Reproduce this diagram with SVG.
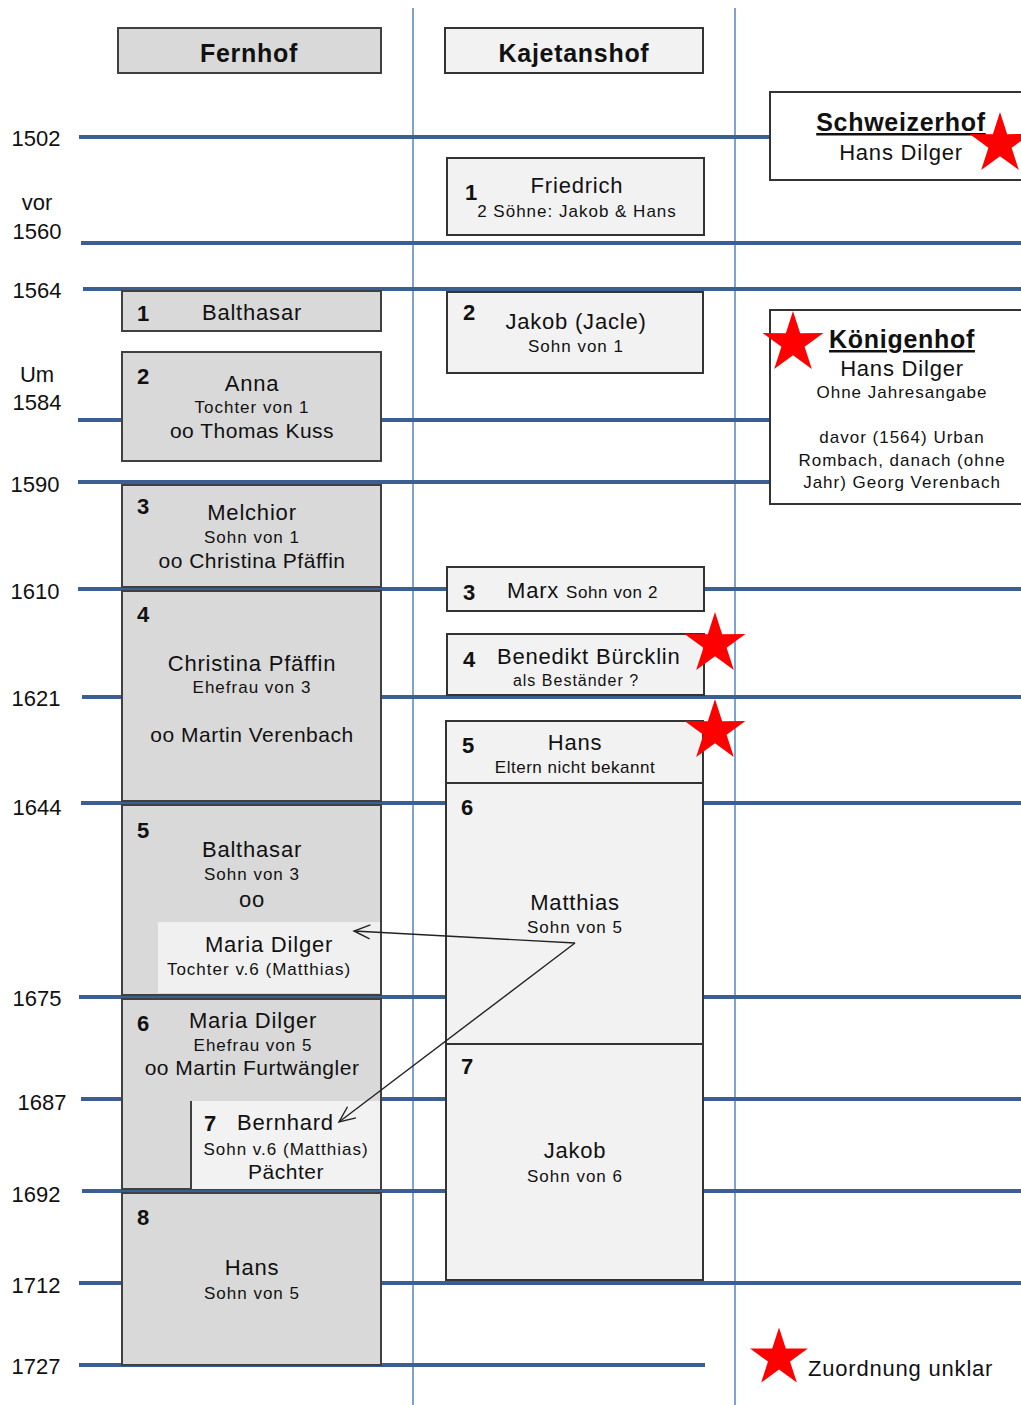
<svg xmlns="http://www.w3.org/2000/svg" width="1021" height="1405" viewBox="0 0 1021 1405">
<style>
text{font-family:"Liberation Sans",Arial,sans-serif;fill:#111}
.yr{font-size:22px;text-anchor:middle}
.hl{stroke:#3b5e93;stroke-width:4;fill:none}
.vl{stroke:#7ea3d2;stroke-width:2;fill:none}
.fb{fill:#d9d9d9;stroke:#404040;stroke-width:2}
.kb{fill:#f2f2f2;stroke:#333;stroke-width:2}
.wb{fill:#fff;stroke:#333;stroke-width:2}
.n{font-size:22px;font-weight:bold}
.m{font-size:22px;text-anchor:middle;letter-spacing:0.8px}
.l{font-size:22px;letter-spacing:0.8px}
.o{font-size:21px;text-anchor:middle;letter-spacing:0.5px}
.s{font-size:17px;text-anchor:middle;letter-spacing:1px}
.hd{font-size:25px;font-weight:bold;text-anchor:middle;letter-spacing:0.7px}
.star{fill:#f00}
.con{stroke:#222;stroke-width:1.4;fill:none}
</style>
<defs>
<path id="star" d="M0,-32 L7.17,-9.87 L30.43,-9.89 L11.6,3.77 L18.81,25.89 L0,12.2 L-18.81,25.89 L-11.6,3.77 L-30.43,-9.89 L-7.17,-9.87 Z"/>
<marker id="arr" markerWidth="20" markerHeight="20" refX="18" refY="10" orient="auto" markerUnits="userSpaceOnUse">
<path d="M2,3 L18,10 L2,17" fill="none" stroke="#222" stroke-width="1.4"/>
</marker>
</defs>
<rect width="1021" height="1405" fill="#fff"/>

<g id="grid">
<line class="vl" x1="413" y1="8" x2="413" y2="1405"/>
<line class="vl" x1="735" y1="8" x2="735" y2="1405"/>
<line class="hl" x1="79" y1="137" x2="771" y2="137"/>
<line class="hl" x1="81" y1="243" x2="1021" y2="243"/>
<line class="hl" x1="83" y1="289" x2="1021" y2="289"/>
<line class="hl" x1="78" y1="420" x2="771" y2="420"/>
<line class="hl" x1="78" y1="482" x2="771" y2="482"/>
<line class="hl" x1="78" y1="589" x2="1021" y2="589"/>
<line class="hl" x1="82" y1="697" x2="1021" y2="697"/>
<line class="hl" x1="81" y1="803" x2="1021" y2="803"/>
<line class="hl" x1="79" y1="997" x2="1021" y2="997"/>
<line class="hl" x1="81" y1="1099" x2="1021" y2="1099"/>
<line class="hl" x1="82" y1="1191" x2="1021" y2="1191"/>
<line class="hl" x1="79" y1="1283" x2="1021" y2="1283"/>
<line class="hl" x1="79" y1="1365" x2="705" y2="1365"/>
</g>

<g id="years">
<text class="yr" x="36" y="146">1502</text>
<text class="yr" x="37" y="210">vor</text>
<text class="yr" x="37" y="239">1560</text>
<text class="yr" x="37" y="298">1564</text>
<text class="yr" x="37" y="382">Um</text>
<text class="yr" x="37" y="410">1584</text>
<text class="yr" x="35" y="492">1590</text>
<text class="yr" x="35" y="599">1610</text>
<text class="yr" x="36" y="706">1621</text>
<text class="yr" x="37" y="815">1644</text>
<text class="yr" x="37" y="1006">1675</text>
<text class="yr" x="42" y="1110">1687</text>
<text class="yr" x="36" y="1202">1692</text>
<text class="yr" x="36" y="1293">1712</text>
<text class="yr" x="36" y="1374">1727</text>
</g>

<g id="h-fernhof">
<rect class="fb" x="118" y="28" width="263" height="45"/>
<text class="hd" x="249" y="62">Fernhof</text>
</g>
<g id="h-kajetanshof">
<rect class="kb" x="445" y="28" width="258" height="45"/>
<text class="hd" x="574" y="62">Kajetanshof</text>
</g>

<g id="f1">
<rect class="fb" x="122" y="291" width="259" height="40"/>
<text class="n" x="137" y="321">1</text>
<text class="m" x="252" y="320">Balthasar</text>
</g>
<g id="f2">
<rect class="fb" x="122" y="352" width="259" height="109"/>
<text class="n" x="137" y="384">2</text>
<text class="m" x="252" y="391">Anna</text>
<text class="s" x="252" y="413">Tochter von 1</text>
<text class="o" x="252" y="438">oo Thomas Kuss</text>
</g>
<g id="f3">
<rect class="fb" x="122" y="485" width="259" height="102"/>
<text class="n" x="137" y="514">3</text>
<text class="m" x="252" y="520">Melchior</text>
<text class="s" x="252" y="543">Sohn von 1</text>
<text class="o" x="252" y="568">oo Christina Pfäffin</text>
</g>
<g id="f4">
<rect class="fb" x="122" y="591" width="259" height="210"/>
<text class="n" x="137" y="622">4</text>
<text class="m" x="252" y="671">Christina Pfäffin</text>
<text class="s" x="252" y="693">Ehefrau von 3</text>
<text class="o" x="252" y="742">oo Martin Verenbach</text>
</g>
<g id="f5">
<rect class="fb" x="122" y="805" width="259" height="190"/>
<rect x="158" y="922" width="222" height="71" fill="#f0f0f0"/>
<text class="n" x="137" y="838">5</text>
<text class="m" x="252" y="857">Balthasar</text>
<text class="s" x="252" y="880">Sohn von 3</text>
<text class="m" x="252" y="907">oo</text>
<text class="m" x="269" y="952">Maria Dilger</text>
<text class="s" x="259" y="975">Tochter v.6 (Matthias)</text>
</g>
<g id="f6">
<rect class="fb" x="122" y="999" width="259" height="190"/>
<text class="n" x="137" y="1031">6</text>
<text class="m" x="253" y="1028">Maria Dilger</text>
<text class="s" x="253" y="1051">Ehefrau von 5</text>
<text class="o" x="252" y="1075">oo Martin Furtwängler</text>
</g>
<g id="f7">
<rect x="191" y="1101" width="189" height="88" fill="#f2f2f2"/>
<line x1="191" y1="1101" x2="191" y2="1189" stroke="#404040" stroke-width="2"/>
<text class="n" x="204" y="1131">7</text>
<text class="l" x="237" y="1130">Bernhard</text>
<text class="s" x="286" y="1155">Sohn v.6 (Matthias)</text>
<text class="o" x="286" y="1179">Pächter</text>
</g>
<g id="f8">
<rect class="fb" x="122" y="1193" width="259" height="172"/>
<text class="n" x="137" y="1225">8</text>
<text class="m" x="252" y="1275">Hans</text>
<text class="s" x="252" y="1299">Sohn von 5</text>
</g>

<g id="k1">
<rect class="kb" x="447" y="158" width="257" height="77"/>
<text class="n" x="465" y="200">1</text>
<text class="m" x="577" y="193">Friedrich</text>
<text class="s" x="577" y="217">2 Söhne: Jakob &amp; Hans</text>
</g>
<g id="k2">
<rect class="kb" x="447" y="292" width="256" height="81"/>
<text class="n" x="463" y="320">2</text>
<text class="m" x="576" y="329">Jakob (Jacle)</text>
<text class="s" x="576" y="352">Sohn von 1</text>
</g>
<g id="k3">
<rect class="kb" x="447" y="567" width="257" height="44"/>
<text class="n" x="463" y="600">3</text>
<text class="l" x="507" y="598">Marx <tspan style="font-size:17px;letter-spacing:0.6px">Sohn von 2</tspan></text>
</g>
<g id="k4">
<rect class="kb" x="447" y="634" width="257" height="61"/>
<text class="n" x="463" y="667">4</text>
<text class="l" x="497" y="664">Benedikt Bürcklin</text>
<text class="s" x="576" y="686" style="font-size:16px">als Beständer ?</text>
<use href="#star" class="star" x="715" y="644"/>
</g>
<g id="k5">
<rect class="kb" x="446" y="721" width="257" height="62"/>
<text class="n" x="462" y="753">5</text>
<text class="m" x="575" y="750">Hans</text>
<text class="s" x="575" y="773" style="letter-spacing:0.5px">Eltern nicht bekannt</text>
<use href="#star" class="star" x="715" y="731"/>
</g>
<g id="k6">
<rect class="kb" x="446" y="783" width="257" height="261"/>
<text class="n" x="461" y="815">6</text>
<text class="m" x="575" y="910">Matthias</text>
<text class="s" x="575" y="933">Sohn von 5</text>
</g>
<g id="k7">
<rect class="kb" x="446" y="1044" width="257" height="236"/>
<text class="n" x="461" y="1074">7</text>
<text class="m" x="575" y="1158">Jakob</text>
<text class="s" x="575" y="1182">Sohn von 6</text>
</g>

<g id="schweizerhof">
<rect class="wb" x="770" y="92" width="260" height="88"/>
<text class="hd" x="901" y="131" style="text-decoration:underline">Schweizerhof</text>
<text class="m" x="901" y="160">Hans Dilger</text>
<use href="#star" class="star" x="1000" y="144"/>
</g>
<g id="koenigenhof">
<rect class="wb" x="770" y="310" width="260" height="194"/>
<use href="#star" class="star" x="793" y="343"/>
<text class="hd" x="902" y="348" style="text-decoration:underline">Königenhof</text>
<text class="m" x="902" y="376">Hans Dilger</text>
<text class="s" x="902" y="398">Ohne Jahresangabe</text>
<text class="s" x="902" y="443">davor (1564) Urban</text>
<text class="s" x="902" y="466">Rombach, danach (ohne</text>
<text class="s" x="902" y="488">Jahr) Georg Verenbach</text>
</g>

<g id="legend">
<use href="#star" class="star" x="779" y="1358" transform="translate(779 1358) scale(0.95) translate(-779 -1358)"/>
<text class="l" x="808" y="1376">Zuordnung unklar</text>
</g>

<g id="connectors">
<line class="con" x1="575" y1="943" x2="354" y2="931" marker-end="url(#arr)"/>
<line class="con" x1="575" y1="943" x2="339" y2="1122" marker-end="url(#arr)"/>
</g>
</svg>
